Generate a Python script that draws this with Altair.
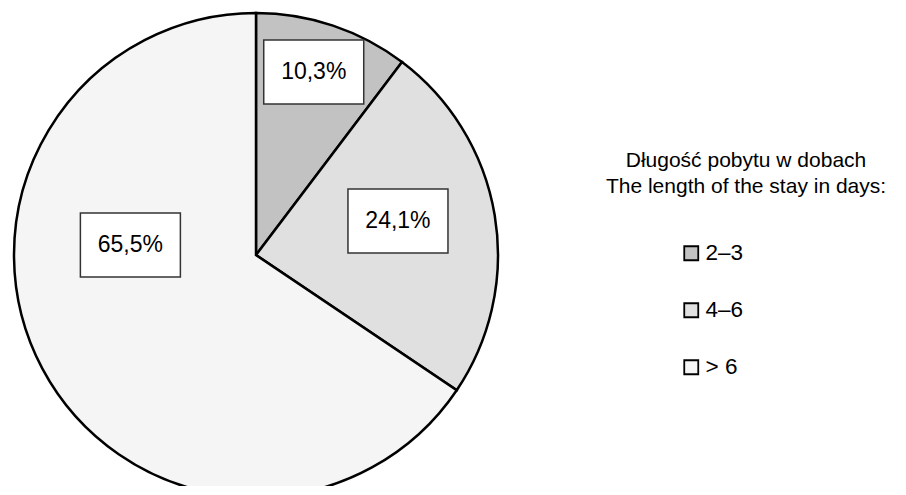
import altair as alt
import pandas as pd

# ---- data ----
categories = ["2–3", "4–6", " > 6"]
shares = [10.3, 24.1, 65.5]
pct_labels = ["10,3%", "24,1%", "65,5%"]
title_lines = ["Długość pobytu w dobach", "The length of the stay in days:"]

# ---- styling / layout ----
fills = ["#c2c2c2", "#e0e0e0", "#f5f5f5"]
label_angle_deg = [17.5, 76.5, 274.5]
label_radius = [192, 146, 126]
CX, CY, R = 248, 247, 242
FONT = "Arial, Liberation Sans"

df = pd.DataFrame({
    "cat": categories,
    "share": shares,
    "label": pct_labels,
    "ord": list(range(len(categories))),
    "ang": label_angle_deg,
    "rad": label_radius,
})

base = alt.Chart(df)

pie = base.mark_arc(outerRadius=R, stroke="black", strokeWidth=2.5).encode(
    theta=alt.Theta("share:Q", stack=True),
    order=alt.Order("ord:Q"),
    fill=alt.Fill(
        "cat:N",
        scale=alt.Scale(domain=categories, range=fills),
        sort=categories,
        legend=alt.Legend(
            title=None,
            orient="none",
            legendX=672,
            legendY=234,
            symbolType="square",
            symbolSize=196,
            symbolStrokeColor="black",
            symbolStrokeWidth=1.8,
            labelFont=FONT,
            labelFontSize=22.5,
            labelColor="black",
            labelOffset=3,
            rowPadding=34,
            padding=0,
        ),
    ),
    x=alt.value(CX),
    y=alt.value(CY),
)

pos = base.transform_calculate(
    px=f"{CX} + datum.rad * sin(datum.ang * PI / 180)",
    py=f"{CY} - datum.rad * cos(datum.ang * PI / 180)",
).transform_calculate(
    x1="datum.px - 50", x2="datum.px + 50",
    y1="datum.py - 32", y2="datum.py + 32",
)

boxes = pos.mark_rect(fill="white", stroke="#333333", strokeWidth=1.5).encode(
    x=alt.X("x1:Q", scale=None, axis=None),
    x2="x2:Q",
    y=alt.Y("y1:Q", scale=None, axis=None),
    y2="y2:Q",
)

texts = pos.mark_text(font=FONT, fontSize=23, color="black", baseline="middle", align="center").encode(
    x=alt.X("px:Q", scale=None, axis=None),
    y=alt.Y("py:Q", scale=None, axis=None),
    text="label:N",
)

title = alt.Chart(pd.DataFrame({"t": [0]})).mark_text(
    text=title_lines, font=FONT, fontSize=21, lineHeight=26,
    align="center", baseline="alphabetic", color="black",
).encode(x=alt.value(738), y=alt.value(159))

chart = alt.layer(pie, boxes, texts, title).properties(
    width=890, height=478, padding=0, autosize=alt.AutoSizeParams(type="none"),
).configure_view(stroke=None)

chart.save("out.html", embed_options={"renderer": "svg", "actions": False})
